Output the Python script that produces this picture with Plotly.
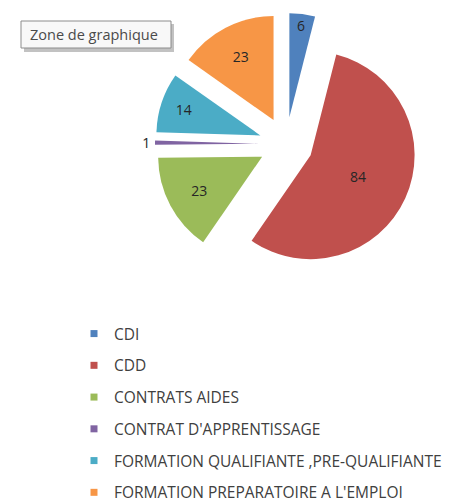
import plotly.graph_objects as go

categories = ["CDI", "CDD", "CONTRATS AIDES", "CONTRAT D'APPRENTISSAGE",
              "FORMATION QUALIFIANTE ,PRE-QUALIFIANTE", "FORMATION PREPARATOIRE A L'EMPLOI"]
values = [6, 84, 23, 1, 14, 23]
colors = ["#4F81BD", "#C0504D", "#9BBB59", "#8064A2", "#4BACC6", "#F79646"]
text_positions = ["inside", "inside", "inside", "outside", "inside", "inside"]
tooltip_text = "Zone de graphique"

W, H = 460, 502


def px(x):
    return x / W


def py(y):
    return 1 - y / H


fig = go.Figure()
fig.add_trace(go.Pie(
    labels=categories, values=values, sort=False, direction="clockwise", rotation=0,
    marker=dict(colors=colors, line=dict(width=0)),
    pull=[0.26] * len(values),
    textinfo="value", textposition=text_positions,
    insidetextorientation="horizontal",
    textfont=dict(family="Open Sans", size=14, color="#262626"),
    domain=dict(x=[px(147), px(409)], y=[py(267), py(5)]),
    showlegend=False, hoverinfo="label+value",
))
for c, col in zip(categories, colors):
    fig.add_trace(go.Scatter(
        x=[None], y=[None], mode="markers", name=c, legendgroup=c,
        marker=dict(symbol="square", size=7, color=col),
        showlegend=True, hoverinfo="skip",
    ))

fig.update_layout(
    width=W, height=H, margin=dict(l=0, r=0, t=0, b=0, autoexpand=False),
    paper_bgcolor="white", plot_bgcolor="white",
    xaxis=dict(visible=False), yaxis=dict(visible=False),
    legend=dict(x=px(66), y=py(309), xanchor="left", yanchor="top",
                tracegroupgap=8.6, traceorder="grouped",
                font=dict(family="Open Sans", size=15.5, color="#404040"),
                bgcolor="rgba(0,0,0,0)"),
    shapes=[
        dict(type="rect", xref="paper", yref="paper", x0=px(16), x1=px(166), y0=py(44), y1=py(16),
             fillcolor="rgba(120,120,120,0.45)", line=dict(width=0)),
        dict(type="rect", xref="paper", yref="paper", x0=px(13), x1=px(163), y0=py(40), y1=py(13),
             fillcolor="#f8f8f8", line=dict(color="#8c8c8c", width=1)),
    ],
    annotations=[dict(text=tooltip_text, xref="paper", yref="paper", x=px(86), y=py(27),
                      xanchor="center", yanchor="middle", showarrow=False,
                      font=dict(family="Open Sans", size=14.5, color="#4a4a4a"))],
)

fig.write_html("out.html")
